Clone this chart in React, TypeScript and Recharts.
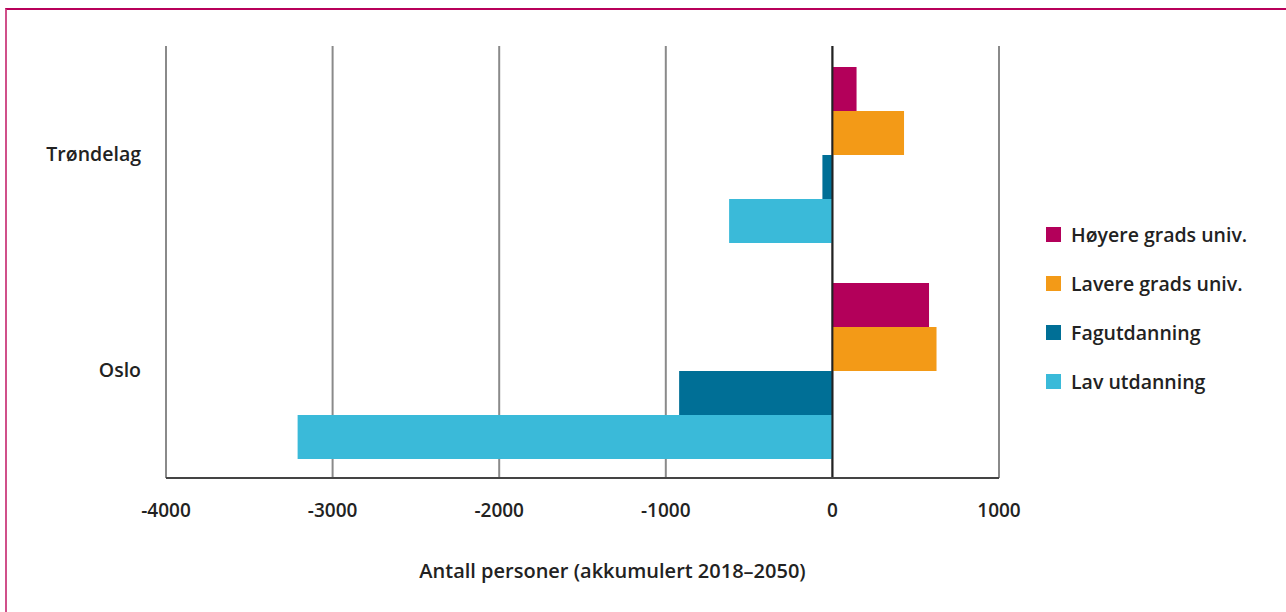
import React from "react";
import {
  BarChart,
  Bar,
  XAxis,
  YAxis,
  CartesianGrid,
  ReferenceLine,
  Label,
} from "recharts";

const regions = ["Trøndelag", "Oslo"];
const hoyere = [145, 580];
const lavere = [430, 625];
const fagutdanning = [-60, -920];
const lavUtdanning = [-620, -3210];
const xTicks = [-4000, -3000, -2000, -1000, 0, 1000];

const SERIES = [
  { key: "hoyere", name: "Høyere grads univ.", color: "#B3005A" },
  { key: "lavere", name: "Lavere grads univ.", color: "#F39A17" },
  { key: "fag", name: "Fagutdanning", color: "#006F96" },
  { key: "lav", name: "Lav utdanning", color: "#3ABAD9" },
];

const data = regions.map((region, i) => ({
  region,
  hoyere: hoyere[i],
  lavere: lavere[i],
  fag: fagutdanning[i],
  lav: lavUtdanning[i],
}));

const FONT = "'Open Sans', Lato, sans-serif";
const TEXT = "#222";

function LegendBox() {
  return (
    <div
      style={{
        position: "absolute",
        left: 1046,
        top: 210,
        fontFamily: FONT,
        fontSize: 19.5,
        fontWeight: 600,
        color: TEXT,
      }}
    >
      {SERIES.map((s) => (
        <div
          key={s.key}
          style={{ display: "flex", alignItems: "center", height: 49 }}
        >
          <span
            style={{
              width: 15,
              height: 15,
              background: s.color,
              marginRight: 10,
              display: "inline-block",
            }}
          />
          <span>{s.name}</span>
        </div>
      ))}
    </div>
  );
}

export default function App() {
  return (
    <div
      style={{
        position: "absolute",
        left: 0,
        top: 0,
        width: 1286,
        height: 612,
        background: "#fff",
      }}
    >
      <div
        style={{
          position: "absolute",
          left: 5,
          top: 8,
          right: 0,
          bottom: 0,
          borderTop: "2px solid #B8005A",
          borderLeft: "2px solid #D0508A",
        }}
      />
      <BarChart
        width={1286}
        height={612}
        data={data}
        layout="vertical"
        margin={{ top: 46, right: 287, bottom: 0, left: 0 }}
        barCategoryGap={21}
        barGap={0}
      >
        <CartesianGrid horizontal={false} stroke="#8a8a8a" strokeWidth={2} />
        <XAxis
          type="number"
          domain={[-4000, 1000]}
          ticks={xTicks}
          height={134}
          tickLine={false}
          tickSize={0}
          tickMargin={26}
          axisLine={{ stroke: "#444", strokeWidth: 2 }}
          tick={{ fill: TEXT, fontSize: 19, fontFamily: FONT, fontWeight: 600 }}
        >
          <Label
            content={({ viewBox }: any) => (
              <text
                x={viewBox.x + viewBox.width / 2 + 30}
                y={viewBox.y + 100}
                textAnchor="middle"
                fill={TEXT}
                fontSize={20}
                fontFamily={FONT}
                fontWeight={600}
              >
                Antall personer (akkumulert 2018–2050)
              </text>
            )}
          />
        </XAxis>
        <YAxis
          type="category"
          dataKey="region"
          width={166}
          axisLine={false}
          tickLine={false}
          tickSize={0}
          tickMargin={25}
          tick={{ fill: TEXT, fontSize: 19.5, fontFamily: FONT, fontWeight: 600 }}
        />
        <ReferenceLine x={0} stroke="#222" strokeWidth={2} />
        {SERIES.map((s) => (
          <Bar
            key={s.key}
            dataKey={s.key}
            name={s.name}
            fill={s.color}
            isAnimationActive={false}
          />
        ))}
      </BarChart>
      <LegendBox />
    </div>
  );
}
